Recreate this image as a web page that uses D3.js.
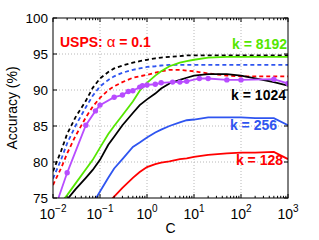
<!DOCTYPE html>
<html>
<head>
<meta charset="utf-8">
<script src="https://cdn.jsdelivr.net/npm/d3@7"></script>
<style>
body { margin: 0; background: #fff; }
svg { font-family: 'Liberation Sans', Arial, sans-serif; }
</style>
</head>
<body>
<svg></svg>
<script>
// C grid shared by the dashed and solid curves
var cValues = [0.01, 0.015, 0.02, 0.03, 0.05, 0.07, 0.1, 0.15, 0.2, 0.3, 0.5, 0.7, 1, 1.5, 2, 3, 5, 7, 10, 20, 50, 100, 200, 500, 1000]

// dashed curves
var dashBlack = [78.7, 81.6, 83.9, 86.2, 88.5, 90.3, 91.6, 92.5, 93.0, 93.4, 93.8, 94.0, 94.2, 94.4, 94.5, 94.6, 94.7, 94.8, 94.8, 94.8, 94.8, 94.8, 94.8, 94.8, 94.8]
var dashBlue = [77.7, 80.4, 82.6, 85.0, 87.6, 89.2, 90.5, 91.4, 91.9, 92.4, 92.8, 93.0, 93.2, 93.3, 93.4, 93.5, 93.5, 93.5, 93.5, 93.5, 93.5, 93.5, 93.5, 93.5, 93.5]
var dashRed = [76.8, 79.2, 81.2, 83.6, 86.2, 87.7, 88.9, 90.0, 90.5, 91.1, 91.7, 91.9, 92.1, 92.4, 92.6, 92.8, 92.8, 92.7, 92.6, 92.3, 92.0, 91.9, 91.9, 91.9, 91.9]

// solid curves, one per k
var k8192 = [72.8, 74.4, 75.4, 77.0, 79.0, 80.3, 82.0, 83.9, 85.0, 86.5, 88.4, 89.9, 91.0, 92.0, 92.6, 93.3, 93.8, 94.0, 94.2, 94.5, 94.6, 94.6, 94.6, 94.6, 94.6]
var k1024 = [72.7, 74.0, 74.8, 76.2, 77.8, 78.9, 80.3, 82.4, 83.5, 85.1, 86.8, 87.9, 88.7, 89.5, 90.2, 90.9, 91.4, 91.7, 92.0, 92.2, 92.2, 92.0, 91.6, 91.1, 90.6]
var k256 = [null, null, null, null, 72.6, 74.2, 75.9, 77.8, 79.1, 80.4, 82.1, 82.7, 83.4, 84.1, 84.5, 85.0, 85.5, 85.8, 85.9, 86.2, 86.2, 86.2, 86.1, 86.1, 85.1]
var k128 = [null, null, null, null, null, null, null, 74.3, 75.2, 76.4, 77.8, 78.6, 79.3, 79.7, 79.9, 80.1, 80.4, 80.5, 80.7, 81.0, 81.2, 81.3, 81.3, 81.4, 80.4]

// purple curve with markers
var purpleC = [0.01, 0.02, 0.05, 0.08, 0.1, 0.2, 0.3, 0.4, 0.5, 0.7, 0.8, 1, 1.5, 2, 3.5, 5, 7, 13, 20, 50, 100, 500, 1000]
var purpleAcc = [72.8, 78.5, 85.1, 87.1, 87.9, 89.0, 89.3, 89.8, 89.9, 90.4, 90.6, 90.7, 90.8, 91.0, 91.1, 91.1, 91.2, 91.6, 91.6, 91.4, 91.4, 91.5, 90.9]

var accTicks = [75, 80, 85, 90, 95, 100]
var decadeTicks = [1e-2, 1e-1, 1, 10, 100, 1000]
var decadeExp = ['\u22122', '\u22121', '0', '1', '2', '3']

var width = 319
var height = 240
var margin = { top: 18, right: 31, bottom: 42, left: 53 }

var red = '#ff0000'
var blue = '#2f55f0'
var green = '#55e600'
var purple = '#b84cff'

var x = d3
  .scaleLog()
  .domain([1e-2, 1e3])
  .range([margin.left, width - margin.right])

var y = d3
  .scaleLinear()
  .domain([75, 100])
  .range([height - margin.bottom, margin.top])

var svg = d3.select('svg').attr('width', width).attr('height', height)

svg
  .append('clipPath')
  .attr('id', 'plot')
  .append('rect')
  .attr('x', margin.left)
  .attr('y', margin.top)
  .attr('width', width - margin.left - margin.right)
  .attr('height', height - margin.top - margin.bottom)

// dotted grid
var grid = svg.append('g').attr('stroke', '#b8b8b8').attr('stroke-dasharray', '1,2')
grid
  .selectAll('.vgrid')
  .data(decadeTicks.slice(1, -1))
  .enter()
  .append('line')
  .attr('x1', d => x(d))
  .attr('x2', d => x(d))
  .attr('y1', margin.top)
  .attr('y2', height - margin.bottom)
grid
  .selectAll('.hgrid')
  .data(accTicks.slice(1, -1))
  .enter()
  .append('line')
  .attr('x1', margin.left)
  .attr('x2', width - margin.right)
  .attr('y1', d => y(d))
  .attr('y2', d => y(d))

var series = [
  { values: dashBlack, color: 'black', dash: true },
  { values: dashBlue, color: blue, dash: true },
  { values: dashRed, color: red, dash: true },
  { values: k128, color: red },
  { values: k256, color: blue },
  { values: k8192, color: green },
  { values: k1024, color: 'black' }
]

var line = d3
  .line()
  .defined(d => d[1] != null)
  .x(d => x(d[0]))
  .y(d => y(d[1]))

var plot = svg.append('g').attr('clip-path', 'url(#plot)')

plot
  .selectAll('.curve')
  .data(series)
  .enter()
  .append('path')
  .attr('fill', 'none')
  .attr('stroke', d => d.color)
  .attr('stroke-width', 1.8)
  .attr('stroke-dasharray', d => (d.dash ? '4,3' : null))
  .attr('d', d => line(cValues.map((c, i) => [c, d.values[i]])))

var purplePts = purpleC.map((c, i) => [c, purpleAcc[i]])

plot
  .append('path')
  .attr('fill', 'none')
  .attr('stroke', purple)
  .attr('stroke-width', 1.8)
  .attr('d', line(purplePts))

plot
  .selectAll('.dot')
  .data(purplePts.slice(1))
  .enter()
  .append('circle')
  .attr('cx', d => x(d[0]))
  .attr('cy', d => y(d[1]))
  .attr('r', 2.7)
  .attr('fill', purple)

// box and inward ticks
var axes = svg.append('g').attr('stroke', 'black').attr('fill', 'none')
axes
  .append('rect')
  .attr('x', margin.left)
  .attr('y', margin.top)
  .attr('width', width - margin.left - margin.right)
  .attr('height', height - margin.top - margin.bottom)

var minorTicks = x.ticks().filter(d => decadeTicks.indexOf(d) < 0)

axes
  .selectAll('.xtick')
  .data(decadeTicks.map(d => [d, 4]).concat(minorTicks.map(d => [d, 2.2])))
  .enter()
  .append('path')
  .attr('d', d =>
    'M' + x(d[0]) + ',' + y(75) + 'v' + -d[1] +
    'M' + x(d[0]) + ',' + y(100) + 'v' + d[1]
  )

axes
  .selectAll('.ytick')
  .data(accTicks)
  .enter()
  .append('path')
  .attr('d', d =>
    'M' + margin.left + ',' + y(d) + 'h4' +
    'M' + (width - margin.right) + ',' + y(d) + 'h-4'
  )

// tick labels
svg
  .selectAll('.ylabel')
  .data(accTicks)
  .enter()
  .append('text')
  .attr('x', margin.left - 5)
  .attr('y', d => y(d))
  .attr('dy', '0.36em')
  .attr('text-anchor', 'end')
  .attr('font-size', 13.5)
  .text(d => d)

var xLabels = svg
  .selectAll('.xlabel')
  .data(decadeTicks)
  .enter()
  .append('text')
  .attr('x', d => x(d))
  .attr('y', 219)
  .attr('text-anchor', 'middle')
  .attr('font-size', 14)
xLabels.append('tspan').text('10')
xLabels
  .append('tspan')
  .attr('font-size', 10)
  .attr('dy', -7)
  .text((d, i) => decadeExp[i])

svg
  .append('text')
  .attr('x', (margin.left + width - margin.right) / 2)
  .attr('y', 233)
  .attr('text-anchor', 'middle')
  .attr('font-size', 14)
  .text('C')

svg
  .append('text')
  .attr('transform', 'translate(17,' + (margin.top + height - margin.bottom) / 2 + ') rotate(-90)')
  .attr('text-anchor', 'middle')
  .attr('font-size', 14)
  .text('Accuracy (%)')

// annotations
var title = svg
  .append('text')
  .attr('x', 60)
  .attr('y', 47)
  .attr('font-size', 14)
  .attr('font-weight', 'bold')
  .attr('fill', red)
title.append('tspan').text('USPS: ')
title.append('tspan').attr('font-weight', 'normal').attr('font-size', 15).text('\u03b1')
title.append('tspan').text(' = 0.1')

var labels = [
  { text: 'k = 8192', x: 287, y: 49, color: green },
  { text: 'k = 1024', x: 286, y: 100, color: 'black' },
  { text: 'k = 256', x: 277, y: 130, color: blue },
  { text: 'k = 128', x: 283, y: 165, color: red }
]

svg
  .selectAll('.klabel')
  .data(labels)
  .enter()
  .append('text')
  .attr('x', d => d.x)
  .attr('y', d => d.y)
  .attr('text-anchor', 'end')
  .attr('font-size', 14)
  .attr('font-weight', 'bold')
  .attr('fill', d => d.color)
  .text(d => d.text)
</script>
</body>
</html>
